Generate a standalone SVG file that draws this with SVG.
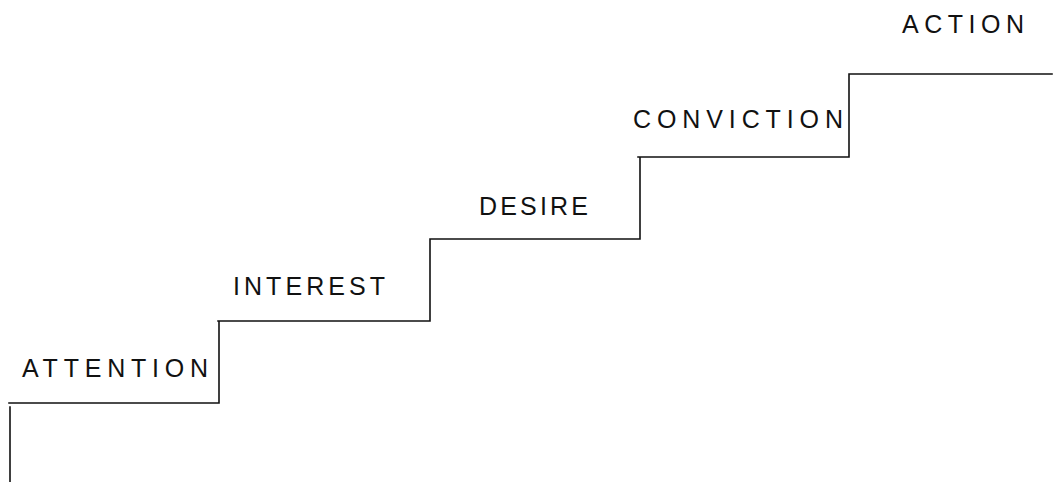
<svg xmlns="http://www.w3.org/2000/svg" width="1055" height="482" viewBox="0 0 1055 482">
<style>
.lbl{font-family:"Liberation Sans",Arial,sans-serif;font-size:25px;fill:#111;}
.stair{fill:none;stroke:#111;stroke-width:1.6;stroke-linecap:square;}
</style>
<rect width="1055" height="482" fill="#fff"/>
<g id="connectors">
<path class="stair" d="M10,482 V407 M9,403 H218 M219,403 V322 M218,321 H430 M430,321 V239 M430,239 H640 M640,239 V157 M638,157 H849 M849,157 V74 H1052"/>
</g>
<g id="attention"><text class="lbl" x="22" y="377" textLength="186" lengthAdjust="spacing">ATTENTION</text></g>
<g id="interest"><text class="lbl" x="233" y="295" textLength="152" lengthAdjust="spacing">INTEREST</text></g>
<g id="desire"><text class="lbl" x="479" y="215" textLength="109" lengthAdjust="spacing">DESIRE</text></g>
<g id="conviction"><text class="lbl" x="633" y="128" textLength="210" lengthAdjust="spacing">CONVICTION</text></g>
<g id="action"><text class="lbl" x="902" y="33" textLength="122" lengthAdjust="spacing">ACTION</text></g>
</svg>
